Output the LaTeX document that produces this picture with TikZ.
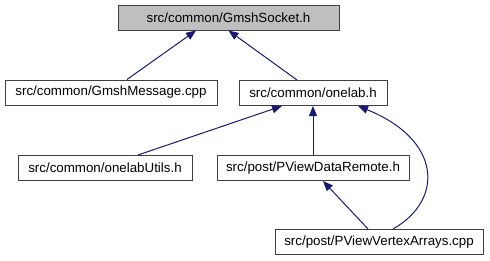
\documentclass[tikz,border=0pt]{standalone}
\usepackage{fontspec}
\setmainfont{Liberation Sans}
\usetikzlibrary{arrows.meta,calc}
\definecolor{edgeblue}{HTML}{191970}
\definecolor{boxline}{HTML}{404040}
\definecolor{rootfill}{HTML}{BFBFBF}
\begin{document}
\begin{tikzpicture}[x=0.75pt,y=-0.75pt,
    file/.style={draw=boxline,line width=0.75pt,fill=white,inner sep=0pt,
      minimum height=18.75pt,font=\fontsize{10}{12}\selectfont},
    dep/.style={edgeblue,line width=0.75pt,
      -{Triangle[length=7.5pt,width=6pt]}}]
      \useasboundingbox (0,0) rectangle (490,261);
      \draw
        (228.5,17.5) node[file,fill=rootfill,minimum width=165.75pt] (sock){src/common/GmshSocket.h}
        (111,92.5) node[file,minimum width=159pt] (msg){src/common/GmshMessage.cpp}
        (313,93) node[file,minimum width=111pt] (ol){src/common/onelab.h}
        (105,168) node[file,minimum width=130.5pt] (olu){src/common/onelabUtils.h}
        (313,168) node[file,minimum width=144pt] (pvdr){src/post/PViewDataRemote.h}
        (379,242) node[file,minimum width=156pt] (pvva){src/post/PViewVertexArrays.cpp};
      \begin{scope}[dep]
        \draw ($(msg.north)+(16,0)$) to ($(sock.south)+(-32.5,0)$);
        \draw ($(ol.north)+(-16,0)$) to (sock.south);
        \draw ($(olu.north)+(33,0)$) to ($(ol.south)+(-31,0)$);
        \draw (pvdr.north) to (ol.south);
        \draw ($(pvva.north)+(14,0)$) .. controls +(51,-29) and +(84,34) .. ($(ol.south)+(45,0)$);
        \draw ($(pvva.north)+(-11,0)$) to ($(pvdr.south)+(10,0)$);
      \end{scope}
    \end{tikzpicture}
\end{document}
